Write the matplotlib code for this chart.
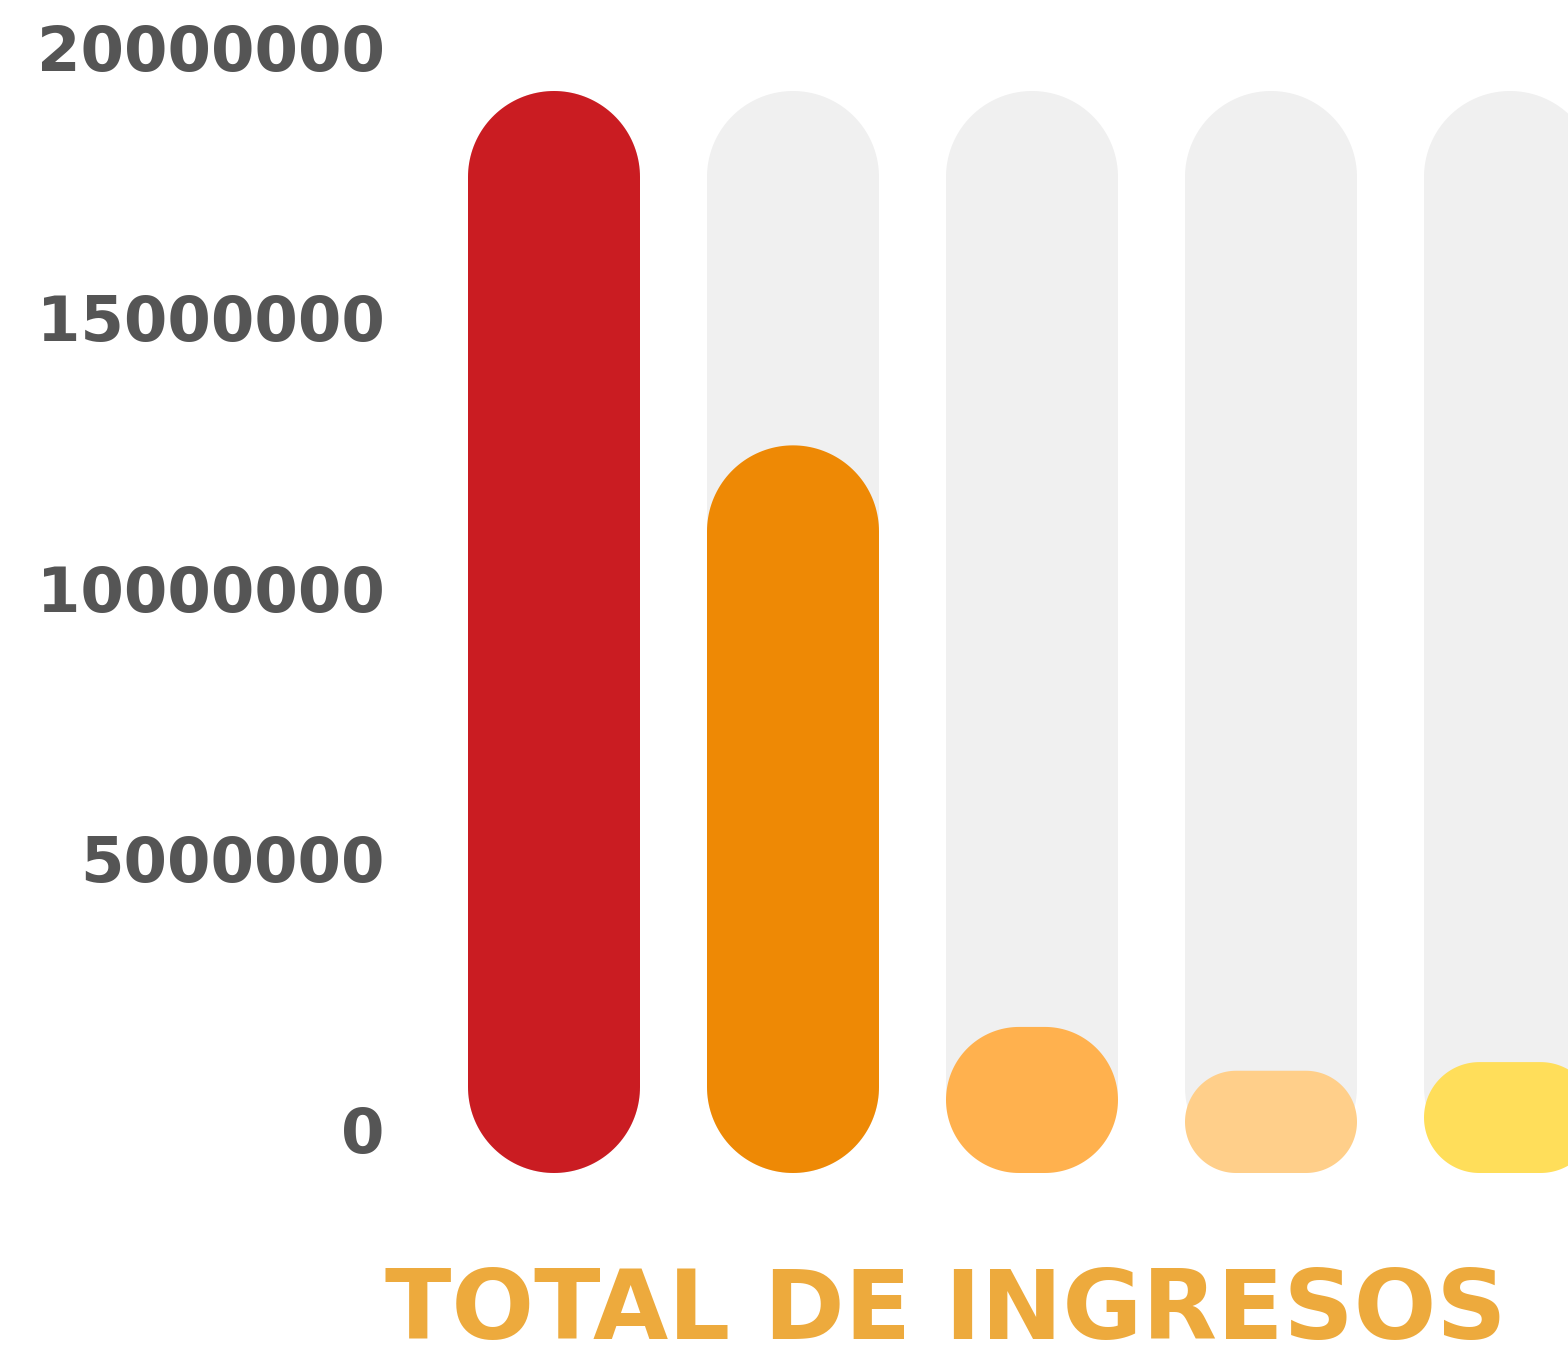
import numpy as np
import matplotlib
matplotlib.use("Agg")
import matplotlib.pyplot as plt
from matplotlib.patches import Polygon
from matplotlib.transforms import ScaledTranslation

# valores
categorias = ["A", "B", "C", "D", "E"]
ingresos = [20000000, 13450000, 2700000, 1890000, 2050000]
maximo = 20000000
colores = ["#CA1C22", "#EE8905", "#FFB14E", "#FFCF8A", "#FFDE5A"]
ticks = [0, 5000000, 10000000, 15000000, 20000000]

W, H, DPI = 1568, 1360, 100
fig = plt.figure(figsize=(W / DPI, H / DPI), dpi=DPI)
fig.patch.set_facecolor("white")

# ejes en pixeles: izquierda 400, derecha 1568, arriba 91, abajo 1173
ax = fig.add_axes([400 / W, 1 - 1173 / H, (1568 - 400) / W, (1173 - 91) / H])
ax.set_xlim(-154 / 239, len(categorias) - 1 + 58 / 239)
ax.set_ylim(0, maximo)
ancho = 172 / 239

# escala px por unidad
p0 = ax.transData.transform((0, 0))
p1 = ax.transData.transform((1, 1))
sx, sy = p1[0] - p0[0], p1[1] - p0[1]


def capsula(cx, valor, color, z):
    x0, x1 = cx - ancho / 2, cx + ancho / 2
    y0, y1 = 0, valor
    r = min(ancho * sx, valor * sy) / 2
    rx, ry = r / sx, r / sy
    pts = []
    esquinas = [(x1 - rx, y1 - ry, 0), (x0 + rx, y1 - ry, 90),
                (x0 + rx, y0 + ry, 180), (x1 - rx, y0 + ry, 270)]
    for (ex, ey, a) in esquinas:
        t = np.radians(np.linspace(a, a + 90, 40))
        pts += list(zip(ex + rx * np.cos(t), ey + ry * np.sin(t)))
    ax.add_patch(Polygon(pts, closed=True, facecolor=color, edgecolor="none",
                         zorder=z, clip_on=False))


for i, (v, c) in enumerate(zip(ingresos, colores)):
    capsula(i, maximo, "#F0F0F0", 1)
    capsula(i, v, c, 2)

ax.set_yticks(ticks)
ax.set_yticklabels([str(t) for t in ticks], fontsize=45, fontweight="bold",
                   color="#555555", family="DejaVu Sans")
ax.tick_params(axis="y", length=0, pad=11)
ax.set_xticks([])
offset = ScaledTranslation(0, 44 / DPI, fig.dpi_scale_trans)
for lab in ax.get_yticklabels():
    lab.set_transform(lab.get_transform() + offset)
for s in ax.spines.values():
    s.set_visible(False)
ax.patch.set_alpha(0)

fig.text(946 / W, 1 / H, "TOTAL DE INGRESOS", ha="center", va="bottom",
         fontsize=70, fontweight="bold", color="#EDAA3D", family="DejaVu Sans")

fig.savefig("out.png", dpi=DPI)
